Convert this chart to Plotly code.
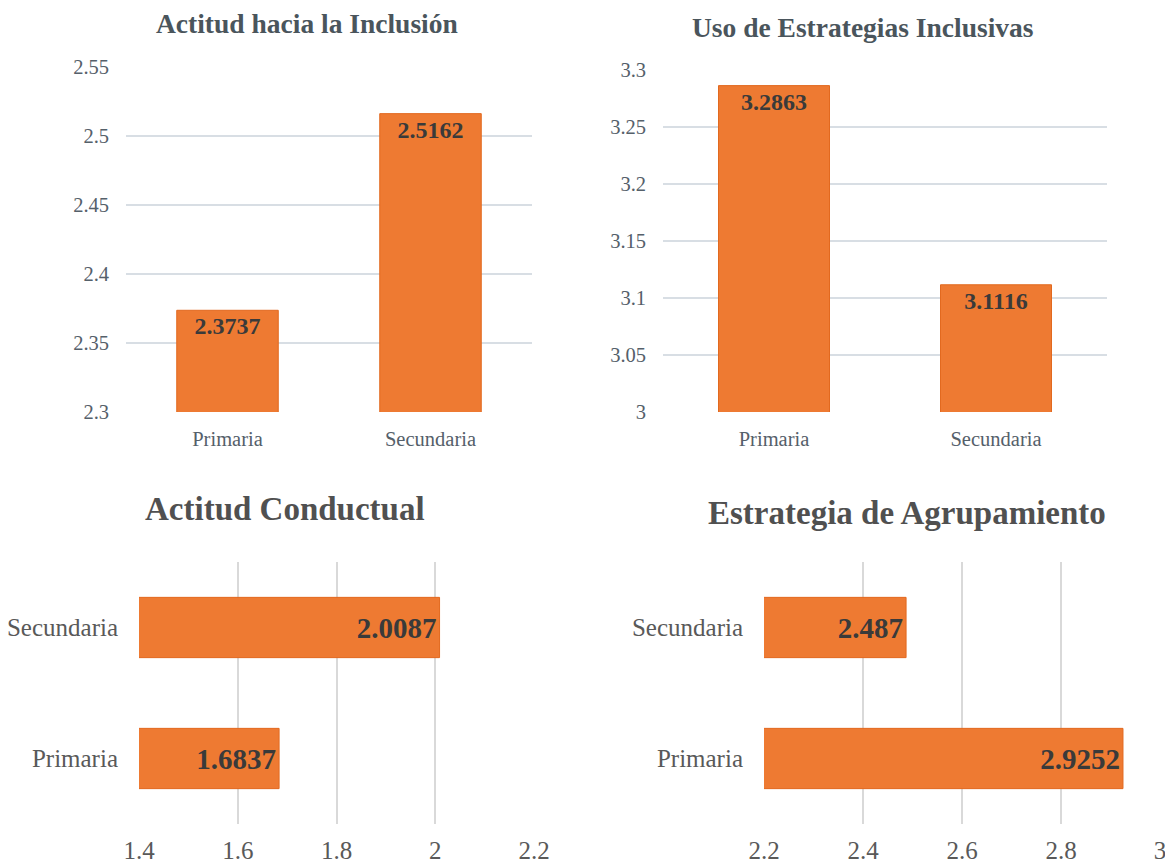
import plotly.graph_objects as go

categories = ["Primaria", "Secundaria"]
actitud_inclusion = [2.3737, 2.5162]
uso_estrategias = [3.2863, 3.1116]
actitud_conductual = [1.6837, 2.0087]
estrategia_agrupamiento = [2.9252, 2.487]

titles = ["Actitud hacia la Inclusión", "Uso de Estrategias Inclusivas",
          "Actitud Conductual", "Estrategia de Agrupamiento"]

FONT = "Liberation Serif"
BAR = "#EE7A32"
EDGE = "#E2691F"
TXT_T = "#55606A"
TXT_B = "#595959"
LBL = "#3A3A3A"
GRID_T = "#D8DEE4"
GRID_B = "#D9D9D9"

fig = go.Figure()

def fmt(v):
    return ("%.4f" % v).rstrip("0")

top_lbl = dict(family=FONT, size=24, color=LBL, weight="bold")
bot_lbl = dict(family=FONT, size=29, color=LBL, weight="bold")

fig.add_trace(go.Bar(x=categories, y=actitud_inclusion, xaxis="x", yaxis="y",
                     width=0.5, marker=dict(color=BAR, line=dict(color=EDGE, width=1)),
                     text=[fmt(v) for v in actitud_inclusion], textposition="inside",
                     insidetextanchor="end", textfont=top_lbl))
fig.add_trace(go.Bar(x=categories, y=uso_estrategias, xaxis="x2", yaxis="y2",
                     width=0.5, marker=dict(color=BAR, line=dict(color=EDGE, width=1)),
                     text=[fmt(v) for v in uso_estrategias], textposition="inside",
                     insidetextanchor="end", textfont=top_lbl))
fig.add_trace(go.Bar(y=categories, x=actitud_conductual, xaxis="x3", yaxis="y3",
                     orientation="h", width=0.46,
                     marker=dict(color=BAR, line=dict(color=EDGE, width=1)),
                     text=[fmt(v) for v in actitud_conductual], textposition="inside",
                     insidetextanchor="end", textfont=bot_lbl))
fig.add_trace(go.Bar(y=categories, x=estrategia_agrupamiento, xaxis="x4", yaxis="y4",
                     orientation="h", width=0.46,
                     marker=dict(color=BAR, line=dict(color=EDGE, width=1)),
                     text=[fmt(v) for v in estrategia_agrupamiento], textposition="inside",
                     insidetextanchor="end", textfont=bot_lbl))

# page body adds an 8px margin; positions below are screen pixels
OFF = 8
W, H = 1165, 867

def px_x(a, b):
    return [(a - OFF) / W, (b - OFF) / W]

def px_y(top, bottom):
    return [1 - (bottom - OFF) / H, 1 - (top - OFF) / H]

tick_top = dict(family=FONT, size=20.5, color=TXT_T)
tick_bot = dict(family=FONT, size=25, color=TXT_B)

common = dict(automargin=False, showline=False, ticks="", zeroline=False)

fig.update_layout(
    width=W, height=H,
    margin=dict(l=0, r=0, t=0, b=0, autoexpand=False),
    paper_bgcolor="white", plot_bgcolor="white",
    showlegend=False,
    font=dict(family=FONT, color=TXT_B),
    xaxis=dict(domain=px_x(126, 532), anchor="y", type="category",
               showgrid=False, tickfont=tick_top, ticklabelstandoff=12, **common),
    yaxis=dict(domain=px_y(67, 412), anchor="x", range=[2.3, 2.55], dtick=0.05,
               showgrid=True, gridcolor=GRID_T, gridwidth=1.5, tickfont=tick_top,
               ticklabelstandoff=16, tickformat="~g", **common),
    xaxis2=dict(domain=px_x(663, 1107), anchor="y2", type="category",
                showgrid=False, tickfont=tick_top, ticklabelstandoff=12, **common),
    yaxis2=dict(domain=px_y(70, 412), anchor="x2", range=[3.0, 3.3], dtick=0.05,
                showgrid=True, gridcolor=GRID_T, gridwidth=1.5, tickfont=tick_top,
                ticklabelstandoff=16, tickformat="~g", **common),
    xaxis3=dict(domain=px_x(139, 534), anchor="y3", range=[1.4, 2.2], dtick=0.2,
                showgrid=True, gridcolor=GRID_B, gridwidth=1.5, tickfont=tick_bot,
                ticklabelstandoff=9, tickformat="~g", **common),
    yaxis3=dict(domain=px_y(562, 824), anchor="x3", type="category",
                showgrid=False, tickfont=tick_bot, ticklabelstandoff=20, **common),
    xaxis4=dict(domain=px_x(764, 1160), anchor="y4", range=[2.2, 3.0], dtick=0.2,
                showgrid=True, gridcolor=GRID_B, gridwidth=1.5, tickfont=tick_bot,
                ticklabelstandoff=9, tickformat="~g", **common),
    yaxis4=dict(domain=px_y(562, 824), anchor="x4", type="category",
                showgrid=False, tickfont=tick_bot, ticklabelstandoff=20, **common),
)

# (center x, center y, font size, color)
title_specs = [(307, 24, 27.5, "#4A555C"), (863, 28, 27.5, "#4A555C"),
               (285, 509, 33, "#505050"), (907, 513, 33, "#505050")]
for t, (cx, cy, sz, col) in zip(titles, title_specs):
    fig.add_annotation(text="<b>%s</b>" % t, x=(cx - OFF) / W, y=1 - (cy - OFF) / H,
                       xref="paper", yref="paper", xanchor="center", yanchor="middle",
                       showarrow=False, font=dict(family=FONT, size=sz, color=col))

fig.write_html("out.html")
